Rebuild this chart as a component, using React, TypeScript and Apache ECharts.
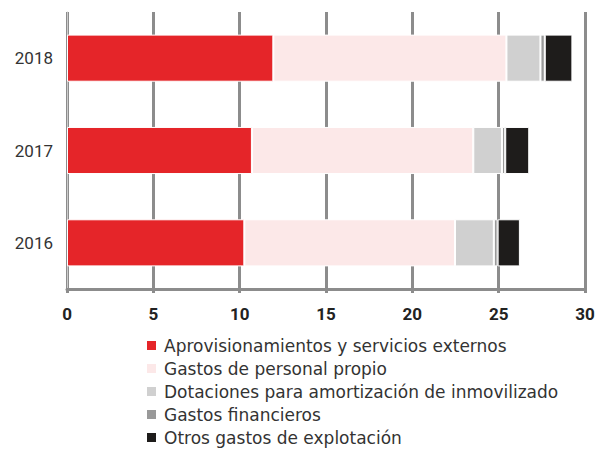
import React, { useEffect, useRef } from "react";
import * as echarts from "echarts";

const years = ["2016", "2017", "2018"];
const seriesNames = [
  "Aprovisionamientos y servicios externos",
  "Gastos de personal propio",
  "Dotaciones para amortización de inmovilizado",
  "Gastos financieros",
  "Otros gastos de explotación",
];
const aprovisionamientos = [10.27, 10.71, 11.95];
const personal = [12.2, 12.82, 13.5];
const dotaciones = [2.25, 1.66, 1.97];
const financieros = [0.22, 0.19, 0.25];
const otros = [1.29, 1.39, 1.6];
const colors = ["#e52529", "#fce8e8", "#d0d0d0", "#999999", "#1e1c1b"];
const xTicks = [0, 5, 10, 15, 20, 25, 30];

export default function App() {
  const ref = useRef<HTMLDivElement>(null);
  useEffect(() => {
    if (!ref.current) return;
    const chart = echarts.init(ref.current, null, { renderer: "svg" });
    const values = [aprovisionamientos, personal, dotaciones, financieros, otros];
    chart.setOption({
      animation: false,
      textStyle: { fontFamily: "Roboto" },
      grid: { left: 67, right: 19, top: 12, bottom: 164, containLabel: false },
      xAxis: {
        type: "value",
        min: xTicks[0],
        max: xTicks[xTicks.length - 1],
        interval: 5,
        axisLine: { show: true, lineStyle: { color: "#8c8c8c", width: 3 } },
        axisTick: { show: true, length: 4, lineStyle: { color: "#8c8c8c", width: 3 } },
        splitLine: { show: true, lineStyle: { color: "#8c8c8c", width: 3 } },
        axisLabel: { color: "#222", fontSize: 17, fontWeight: "bold", margin: 16 },
      },
      yAxis: {
        type: "category",
        data: years,
        axisLine: { show: true, lineStyle: { color: "#cccccc", width: 1 } },
        axisTick: { show: false },
        axisLabel: { color: "#333", fontSize: 17, margin: 14 },
      },
      legend: {
        orient: "vertical",
        left: 140,
        top: 332,
        height: 121,
        itemWidth: 11,
        itemHeight: 11,
        itemGap: 6,
        icon: "rect",
        textStyle: { fontFamily: "DejaVu Sans", fontSize: 17, color: "#333", lineHeight: 17, padding: [0, 0, 0, 2] },
        data: seriesNames,
      },
      series: seriesNames.map((name, i) => ({
        name,
        type: "bar",
        stack: "total",
        barWidth: "51%",
        data: values[i],
        itemStyle: { color: colors[i], borderColor: "#ffffff", borderWidth: 1 },
      })),
    });
    return () => chart.dispose();
  }, []);
  return <div ref={ref} style={{ width: 604, height: 453, position: "absolute", left: 0, top: 0 }} />;
}
